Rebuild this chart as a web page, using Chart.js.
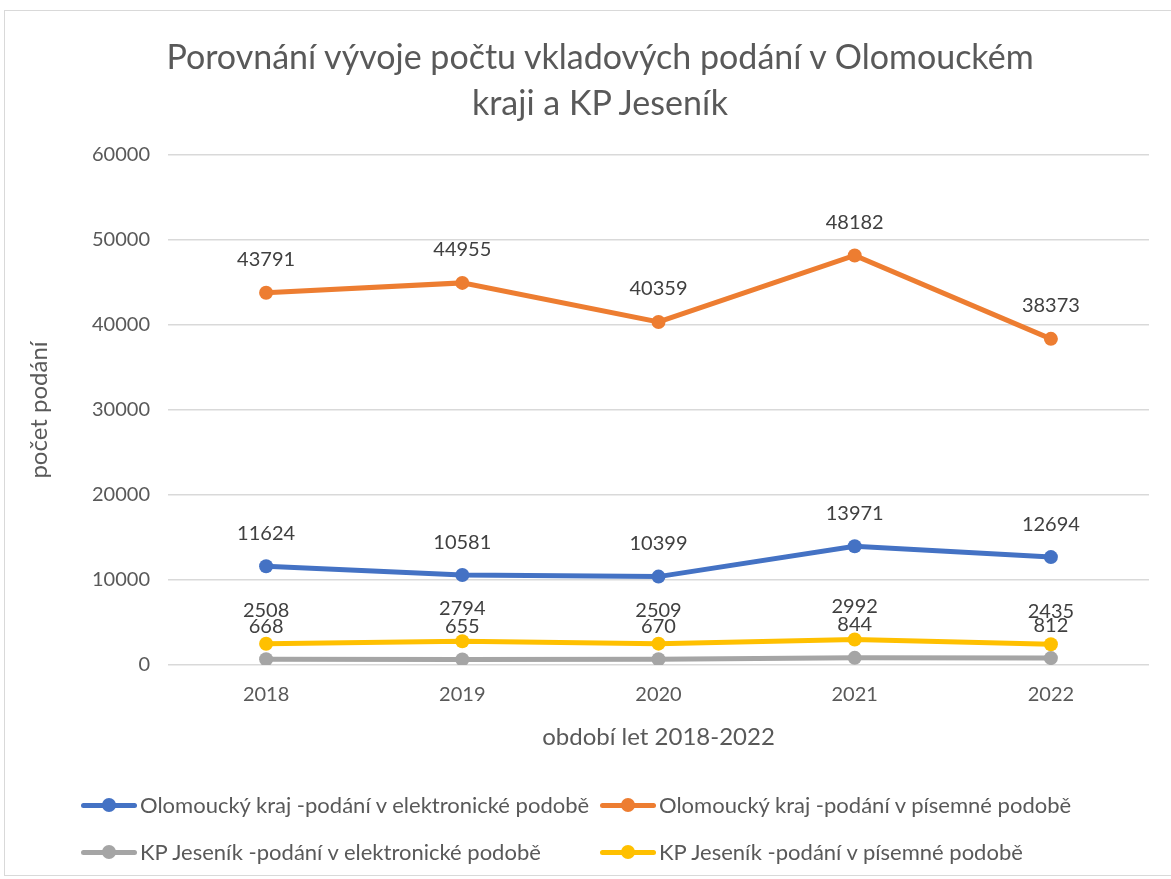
<!DOCTYPE html>
<html><head><meta charset="utf-8">
<script src="https://cdn.jsdelivr.net/npm/chart.js@4/dist/chart.umd.min.js"></script>
<style>
html,body{margin:0;padding:0;background:#fff;}
body{width:1171px;height:879px;position:relative;overflow:hidden;font-family:Lato,"Open Sans",sans-serif;color:#595959;}
#frame{position:absolute;left:4px;top:10px;width:1170px;height:866px;border:1px solid #d9d9d9;box-sizing:border-box;}
#c{position:absolute;left:0;top:0;}
#title{position:absolute;left:0;width:1200px;top:33px;text-align:center;font-size:34px;line-height:46px;color:#595959;}
.leg{position:absolute;font-size:22px;color:#595959;white-space:nowrap;height:24px;line-height:24px;}
.mk{position:absolute;top:10px;width:56px;height:5px;border-radius:3px;}
.mk i{position:absolute;left:21px;top:-5px;width:14px;height:14px;border-radius:50%;}
.leg span.t{position:absolute;left:59px;top:0;}
</style></head>
<body>
<div id="frame"></div>
<canvas id="c" width="1171" height="879"></canvas>
<div id="title"></div>
<div id="legend"></div>
<script>
const titleLines = ["Porovnání vývoje počtu vkladových podání v Olomouckém", "kraji a KP Jeseník"];
const categories = ["2018", "2019", "2020", "2021", "2022"];
const seriesNames = [
  "Olomoucký kraj -podání v elektronické podobě",
  "Olomoucký kraj -podání v písemné podobě",
  "KP Jeseník -podání v elektronické podobě",
  "KP Jeseník -podání v písemné podobě"
];
const olomoucElektronicky = [11624, 10581, 10399, 13971, 12694];
const olomoucPisemne = [43791, 44955, 40359, 48182, 38373];
const jesenikElektronicky = [668, 655, 670, 844, 812];
const jesenikPisemne = [2508, 2794, 2509, 2992, 2435];
const yTicks = [0, 10000, 20000, 30000, 40000, 50000, 60000];
const xAxisTitle = "období let 2018-2022";
const yAxisTitle = "počet podání";
const colors = ["#4472C4", "#ED7D31", "#A5A5A5", "#FFC000"];

document.getElementById('title').innerHTML = titleLines.join('<br>');

const seriesData = [olomoucElektronicky, olomoucPisemne, jesenikElektronicky, jesenikPisemne];
const legendPos = [[81, 793], [600, 793], [81, 840], [600, 840]];
const legend = document.getElementById('legend');
seriesNames.forEach((n, i) => {
  const d = document.createElement('div');
  d.className = 'leg';
  d.style.left = legendPos[i][0] + 'px';
  d.style.top = legendPos[i][1] + 'px';
  d.innerHTML = '<div class="mk" style="background:' + colors[i] + '"><i style="background:' + colors[i] + '"></i></div><span class="t"></span>';
  d.querySelector('.t').textContent = n;
  legend.appendChild(d);
});

const labelPlugin = {
  id: 'vals',
  afterDatasetsDraw(chart) {
    const ctx = chart.ctx;
    ctx.save();
    ctx.font = '20px Lato';
    ctx.fillStyle = '#404040';
    ctx.textAlign = 'center';
    ctx.textBaseline = 'middle';
    chart.data.datasets.forEach((ds, i) => {
      chart.getDatasetMeta(i).data.forEach((pt, j) => {
        ctx.fillText(String(ds.data[j]), pt.x, pt.y - 33);
      });
    });
    ctx.restore();
  }
};

new Chart(document.getElementById('c'), {
  type: 'line',
  data: {
    labels: categories,
    datasets: seriesData.map((d, i) => ({
      label: seriesNames[i],
      data: d,
      borderColor: colors[i],
      backgroundColor: colors[i],
      borderWidth: 5,
      pointRadius: 7,
      pointHoverRadius: 7,
      pointBorderWidth: 0,
      tension: 0,
      order: 4 - i
    }))
  },
  options: {
    responsive: false,
    animation: false,
    layout: { padding: { left: 18, top: 155, right: 22, bottom: 124 } },
    plugins: { legend: { display: false }, title: { display: false }, tooltip: { enabled: false } },
    scales: {
      x: {
        offset: true,
        grid: { display: false, drawTicks: false },
        border: { display: false },
        ticks: { font: { family: 'Lato', size: 20 }, color: '#595959', padding: 18 },
        title: { display: true, text: xAxisTitle, font: { family: 'Lato', size: 24 }, color: '#595959', padding: { top: 0, bottom: 3 } },
        afterFit(s) { s.height = 90; }
      },
      y: {
        min: 0, max: 60000,
        afterBuildTicks(s) { s.ticks = yTicks.map(v => ({ value: v })); },
        grid: { color: '#d9d9d9', lineWidth: 1.5, drawTicks: false },
        border: { display: false },
        ticks: { font: { family: 'Lato', size: 20 }, color: '#595959', padding: 18, callback: v => String(v) },
        title: { display: true, text: yAxisTitle, font: { family: 'Lato', size: 24 }, color: '#595959', padding: 7 },
        afterFit(s) { s.width = 150; }
      }
    }
  },
  plugins: [labelPlugin]
});
</script>
</body></html>
